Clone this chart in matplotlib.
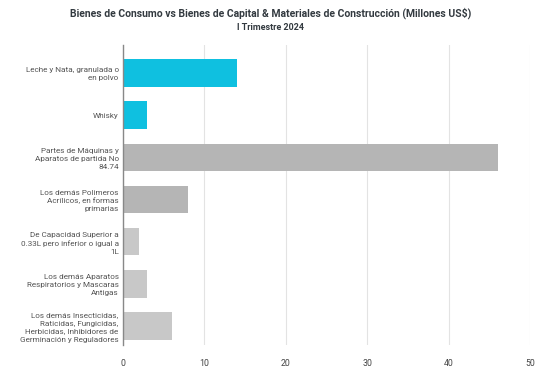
import matplotlib
matplotlib.use("Agg")
import matplotlib.pyplot as plt

plt.rcParams['font.family'] = ['Roboto', 'DejaVu Sans']

# data
labels = [
    "Leche y Nata, granulada o\nen polvo",
    "Whisky",
    "Partes de Máquinas y\nAparatos de partida No\n84.74",
    "Los demás Polimeros\nAcrílicos, en formas\nprimarias",
    "De Capacidad Superior a\n0.33L pero inferior o igual a\n1L",
    "Los demás Aparatos\nRespiratorios y Mascaras\nAntigas",
    "Los demás Insecticidas,\nRaticidas, Fungicidas,\nHerbicidas, Inhibidores de\nGerminación y Reguladores",
]
values = [14, 3, 46, 8, 2, 3, 6]
colors = ["#0FC0E0", "#0FC0E0", "#B5B5B5", "#B5B5B5", "#C8C8C8", "#C8C8C8", "#C8C8C8"]

fig = plt.figure(figsize=(5.41, 3.69), dpi=100)
ax = fig.add_axes([0.227, 0.065, 0.753, 0.813])

ypos = list(range(len(labels)))
ax.barh(ypos, values, height=0.65, color=colors, zorder=3)

ax.set_xlim(0, 50)
ax.set_ylim(6.45, -0.66)
ax.set_xticks([0, 10, 20, 30, 40, 50])
ax.set_yticks(ypos)
ax.set_yticklabels(labels, fontsize=5.9, color="#555555", linespacing=1.4)
ax.tick_params(axis="x", labelsize=6.3, colors="#444444", length=0, pad=10)
ax.tick_params(axis="y", length=0, pad=3)

ax.grid(axis="x", color="#E3E3E3", linewidth=0.8, zorder=0)
for s in ["top", "right", "bottom"]:
    ax.spines[s].set_visible(False)
ax.spines["left"].set_color("#888888")
ax.spines["left"].set_linewidth(1.0)
ax.spines["left"].set_zorder(4)

fig.text(0.5, 0.963, "Bienes de Consumo vs Bienes de Capital & Materiales de Construcción (Millones US$)",
         ha="center", va="center", fontsize=7.5, fontweight="bold", color="#333A40")
fig.text(0.5, 0.926, "I Trimestre 2024", ha="center", va="center",
         fontsize=6.5, fontweight="bold", color="#333A40")

fig.savefig("out.png", dpi=100)
